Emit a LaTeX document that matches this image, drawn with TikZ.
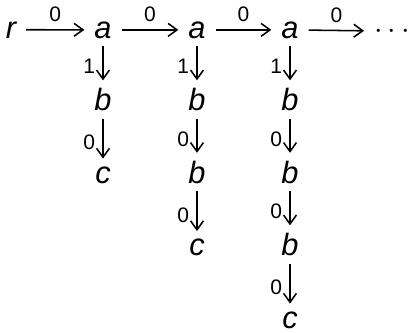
\documentclass[tikz,border=0pt]{standalone}
\usepackage{fontspec}
\setmainfont{Liberation Sans}
\usetikzlibrary{arrows.meta}

\begin{document}
\begin{tikzpicture}[x=0.357pt,y=-0.357pt,
    every node/.style={font=\fontsize{11}{13}\selectfont\itshape,
                       inner xsep=3.4pt,inner ysep=2.6pt,anchor=base},
    lbl/.style={font=\fontsize{7.5}{9}\selectfont,inner sep=2.6pt},
    edge/.style={-{Straight Barb[length=3.2pt,width=4.6pt]},line width=0.55pt}]
  \useasboundingbox (0,0) rectangle (410,332);
  % top row
  \node (r)    at (11,38)  {r};
  \node (a1)   at (103,38) {a};
  \node (a2)   at (197,38) {a};
  \node (a3)   at (290,38) {a};
  \node (dots) at (392,38) {$\cdots$};
  % first column
  \node (b11) at (103,110.5) {b};
  \node (c1)  at (103,183) {c};
  % second column
  \node (b21) at (197,110.5) {b};
  \node (b22) at (197,183) {b};
  \node (c2)  at (197,255.5) {c};
  % third column
  \node (b31) at (290,110.5) {b};
  \node (b32) at (290,183) {b};
  \node (b33) at (290,255.5) {b};
  \node (c3)  at (290,328) {c};

  \draw[edge] (r)  -- (a1)   node[midway,above,lbl]{0};
  \draw[edge] (a1) -- (a2)   node[midway,above,lbl]{0};
  \draw[edge] (a2) -- (a3)   node[midway,above,lbl]{0};
  \draw[edge] (a3) -- (dots) node[midway,above,lbl]{0};

  \draw[edge] (a1)  -- (b11) node[pos=0.6,left,lbl]{1};
  \draw[edge] (b11) -- (c1)  node[pos=0.6,left,lbl]{0};

  \draw[edge] (a2)  -- (b21) node[pos=0.6,left,lbl]{1};
  \draw[edge] (b21) -- (b22) node[pos=0.6,left,lbl]{0};
  \draw[edge] (b22) -- (c2)  node[pos=0.6,left,lbl]{0};

  \draw[edge] (a3)  -- (b31) node[pos=0.6,left,lbl]{1};
  \draw[edge] (b31) -- (b32) node[pos=0.6,left,lbl]{0};
  \draw[edge] (b32) -- (b33) node[pos=0.6,left,lbl]{0};
  \draw[edge] (b33) -- (c3)  node[pos=0.6,left,lbl]{0};
\end{tikzpicture}
\end{document}
